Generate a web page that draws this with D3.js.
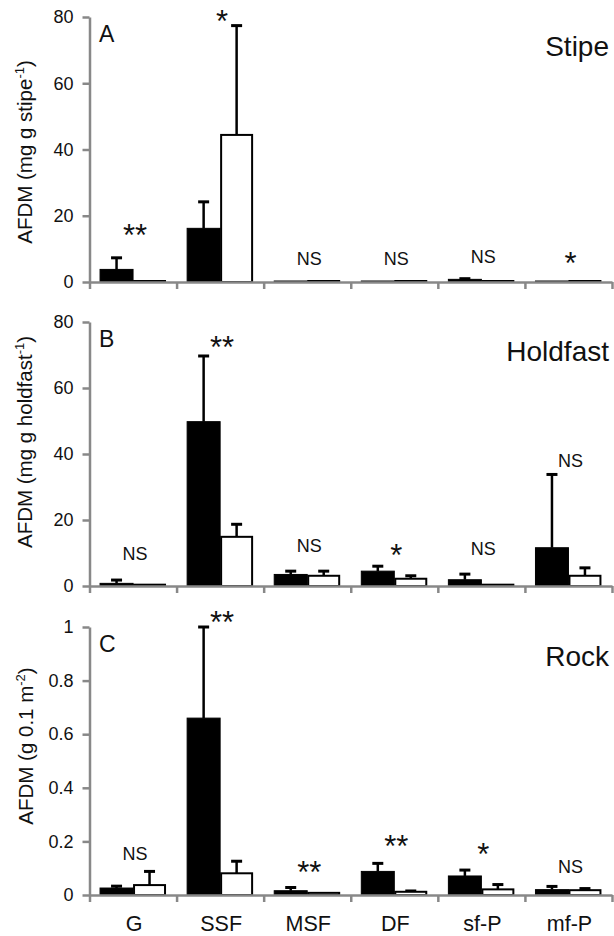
<!DOCTYPE html>
<html>
<head>
<meta charset="utf-8">
<script src="https://cdn.jsdelivr.net/npm/d3@7"></script>
<style>
  html, body { margin: 0; padding: 0; background: #fff; }
  svg { display: block; font-family: "Liberation Sans", Arial, Helvetica, sans-serif; }
</style>
</head>
<body>
<div id="chart"></div>
<script>
// ── data ───────────────────────────────────────
const categories = ["G", "SSF", "MSF", "DF", "sf-P", "mf-P"];

// A  stipe (mg g stipe-1)
const stipeFilled    = [3.8, 16.2, 0.3, 0.3, 0.8, 0.3];
const stipeFilledErr = [3.5, 8.0, 0, 0, 0.2, 0];
const stipeOpen      = [0.3, 44.4, 0.3, 0.3, 0.3, 0.3];
const stipeOpenErr   = [0, 33.0, 0, 0, 0, 0];
const stipeSig       = ["**", "*", "NS", "NS", "NS", "*"];
const stipeSigAt     = [16.3, 80.9, 7.2, 7.2, 7.8, 7.8];
const stipeTicks     = [0, 20, 40, 60, 80];

// B  holdfast (mg g holdfast-1)
const holdFilled    = [0.8, 49.8, 3.5, 4.5, 1.9, 11.6];
const holdFilledErr = [1.0, 19.9, 1.0, 1.5, 1.7, 22.2];
const holdOpen      = [0.4, 14.9, 3.1, 2.2, 0.4, 3.1];
const holdOpenErr   = [0, 3.8, 1.4, 0.9, 0, 2.4];
const holdSig       = ["NS", "**", "NS", "*", "NS", "NS"];
const holdSigAt     = [9.7, 74.5, 12.4, 11.5, 11.5, 37.9];
const holdTicks     = [0, 20, 40, 60, 80];

// C  rock (g 0.1 m-2)
const rockFilled    = [0.026, 0.66, 0.016, 0.088, 0.071, 0.02];
const rockFilledErr = [0.007, 0.34, 0.012, 0.03, 0.022, 0.012];
const rockOpen      = [0.037, 0.081, 0.008, 0.012, 0.021, 0.018];
const rockOpenErr   = [0.051, 0.045, 0, 0.003, 0.018, 0.006];
const rockSig       = ["NS", "**", "**", "**", "*", "NS"];
const rockSigAt     = [0.153, 1.045, 0.112, 0.209, 0.179, 0.108];
const rockTicks     = [0, 0.2, 0.4, 0.6, 0.8, 1];

// ── layout ─────────────────────────────────────
const W = 614, H = 936;
const AX = "#888888";
const X0 = 89.5, X1 = 612;

const panels = [
  { letter: "A", name: "Stipe", filled: stipeFilled, filledErr: stipeFilledErr,
    open: stipeOpen, openErr: stipeOpenErr, sig: stipeSig, sigAt: stipeSigAt,
    ticks: stipeTicks, top: 17, bottom: 282, labelY: 152, labelX: 32,
    label: ["AFDM (mg g stipe", "-1", ")"] },
  { letter: "B", name: "Holdfast", filled: holdFilled, filledErr: holdFilledErr,
    open: holdOpen, openErr: holdOpenErr, sig: holdSig, sigAt: holdSigAt,
    ticks: holdTicks, top: 322, bottom: 586, labelY: 442, labelX: 32,
    label: ["AFDM (mg g holdfast", "-1", ")"] },
  { letter: "C", name: "Rock", filled: rockFilled, filledErr: rockFilledErr,
    open: rockOpen, openErr: rockOpenErr, sig: rockSig, sigAt: rockSigAt,
    ticks: rockTicks, top: 627, bottom: 895, labelY: 746, labelX: 33,
    label: ["AFDM (g 0.1 m", "-2", ")"] }
];

const svg = d3.select("#chart").append("svg")
  .attr("width", W).attr("height", H).attr("viewBox", `0 0 ${W} ${H}`);

const x = d3.scaleBand().domain(categories).range([X0, X1]).padding(0);
const xi = d3.scaleBand().domain(["filled", "open"]).range([0, x.bandwidth()])
  .paddingInner(0).paddingOuter(0.32);
const xEdge = d3.scaleLinear().domain([0, categories.length]).range([X0, X1]);

panels.forEach((p, pi) => {
  const y = d3.scaleLinear().domain([0, d3.max(p.ticks)]).range([p.bottom, p.top]);
  const g = svg.append("g");

  // bars
  const rows = categories.map((c, i) => ({
    cat: c,
    vals: [
      { k: "filled", v: p.filled[i], e: p.filledErr[i] },
      { k: "open",   v: p.open[i],   e: p.openErr[i] }
    ]
  }));

  const grp = g.selectAll(".grp").data(rows).join("g")
    .attr("transform", d => `translate(${x(d.cat)},0)`);

  // error bars (drawn under the bar so only the upper half shows)
  const eb = grp.selectAll(".eb").data(d => d.vals.filter(v => v.e > 0)).join("g");
  eb.append("line")
    .attr("x1", d => xi(d.k) + xi.bandwidth() / 2)
    .attr("x2", d => xi(d.k) + xi.bandwidth() / 2)
    .attr("y1", d => y(d.v)).attr("y2", d => y(d.v + d.e))
    .attr("stroke", "#000").attr("stroke-width", 2.5);
  eb.append("line")
    .attr("x1", d => xi(d.k) + xi.bandwidth() / 2 - 5.5)
    .attr("x2", d => xi(d.k) + xi.bandwidth() / 2 + 5.5)
    .attr("y1", d => y(d.v + d.e)).attr("y2", d => y(d.v + d.e))
    .attr("stroke", "#000").attr("stroke-width", 3);

  grp.selectAll(".bar").data(d => d.vals).join("rect")
    .attr("x", d => xi(d.k) + (d.k === "open" ? 1 : 0))
    .attr("width", d => xi.bandwidth() - (d.k === "open" ? 2 : 0))
    .attr("y", d => y(d.v))
    .attr("height", d => Math.max(0, y(0) - y(d.v)))
    .attr("fill", d => d.k === "filled" ? "#000" : "#fff")
    .attr("stroke", "#000")
    .attr("stroke-width", d => d.k === "filled" ? 1 : 2);

  // y axis
  const fmt = v => String(+v.toFixed(1));
  const ya = g.append("g").attr("transform", `translate(${X0},0)`)
    .call(d3.axisLeft(y).tickValues(p.ticks).tickFormat(fmt)
      .tickSize(7).tickSizeOuter(0).tickPadding(9));
  ya.select(".domain").attr("stroke", AX).attr("stroke-width", 2.5);
  ya.selectAll(".tick line").attr("stroke", AX).attr("stroke-width", 2.5);
  ya.selectAll(".tick text").attr("fill", "#111").attr("font-size", 18)
    .attr("font-family", "'Liberation Sans', Arial, sans-serif");

  // x axis with ticks at category boundaries
  const xa = g.append("g").attr("transform", `translate(0,${y(0)})`)
    .call(d3.axisBottom(xEdge).tickValues(d3.range(categories.length + 1))
      .tickFormat("").tickSize(7).tickSizeOuter(0));
  xa.select(".domain").attr("stroke", AX).attr("stroke-width", 2.5);
  xa.selectAll(".tick line").attr("stroke", AX).attr("stroke-width", 2.5);

  // significance marks
  g.selectAll(".sig").data(categories).join("text")
    .attr("x", c => x(c) + x.bandwidth() / 2 + 2)
    .attr("y", (c, i) => {
      const s = p.sig[i];
      return s === "NS" ? y(p.sigAt[i]) + 6.5 : y(p.sigAt[i]) + 18;
    })
    .attr("text-anchor", "middle")
    .attr("font-size", (c, i) => p.sig[i] === "NS" ? 18 : 31)
    .attr("fill", "#111")
    .text((c, i) => p.sig[i]);

  // panel letter & name
  g.append("text").attr("x", 99).attr("y", p.top + 25)
    .attr("font-size", 23).attr("fill", "#111").text(p.letter);
  g.append("text").attr("x", 609).attr("y", p.top + 39)
    .attr("text-anchor", "end").attr("font-size", 28).attr("fill", "#111").text(p.name);

  // y label
  const yl = g.append("text")
    .attr("transform", `translate(${p.labelX},${p.labelY}) rotate(-90)`)
    .attr("text-anchor", "middle").attr("font-size", 20.5).attr("fill", "#111");
  yl.append("tspan").text(p.label[0]);
  yl.append("tspan").attr("dy", -8).attr("font-size", 13).text(p.label[1]);
  yl.append("tspan").attr("dy", 8).text(p.label[2]);

  // category labels under last panel
  if (pi === panels.length - 1) {
    g.selectAll(".cat").data(categories).join("text")
      .attr("x", c => x(c) + x.bandwidth() / 2 + 1)
      .attr("y", 931)
      .attr("text-anchor", "middle").attr("font-size", 21.5).attr("fill", "#111")
      .text(c => c);
  }
});
</script>
</body>
</html>
